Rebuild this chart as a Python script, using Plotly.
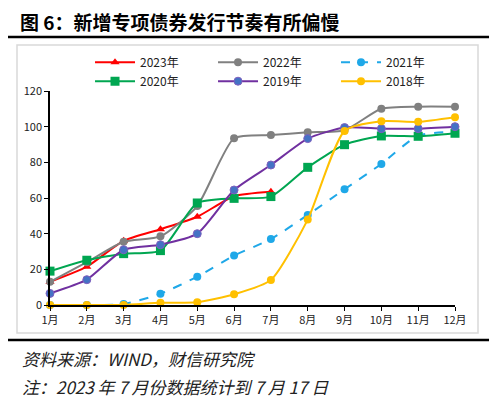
import plotly.graph_objects as go

months = ["1月", "2月", "3月", "4月", "5月", "6月", "7月", "8月", "9月", "10月", "11月", "12月"]
y2023 = [13, 21.5, 36, 42.5, 49.5, 61, 63.5]
y2022 = [13, 24, 35.5, 38.5, 55.5, 93.5, 95.3, 96.8, 98, 110, 111.2, 111.2]
y2021 = [0, 0, 0.5, 6.3, 15.9, 27.7, 37, 50.5, 64.9, 79.1, 95, 97.2]
y2020 = [19, 25.1, 28.8, 30.5, 57.2, 59.8, 60.8, 77.2, 89.9, 94.8, 94.6, 96.3]
y2019 = [6.5, 14.2, 31, 33.8, 40, 64.5, 78.5, 93.3, 99.5, 98.9, 98.9, 100]
y2018 = [0, 0, 0, 1.2, 1.5, 6, 14, 47.9, 97.6, 103, 102.7, 105.3]
yticks = [0, 20, 40, 60, 80, 100, 120]

FONT = "Noto Sans CJK SC"

series = [
    ("2023年", y2023, dict(color="#FF0000", width=2), dict(symbol="triangle-up", size=8, color="#FF0000")),
    ("2022年", y2022, dict(color="#808080", width=2), dict(symbol="circle", size=8, color="#808080")),
    ("2021年", y2021, dict(color="#1FA8E8", width=2, dash="dash"), dict(symbol="circle", size=8, color="#1FA8E8")),
    ("2020年", y2020, dict(color="#00A651", width=2), dict(symbol="square", size=9, color="#00A651")),
    ("2019年", y2019, dict(color="#7030A0", width=2), dict(symbol="circle", size=8, color="#4472C4", line=dict(color="#7F5FBF", width=1))),
    ("2018年", y2018, dict(color="#FFC000", width=2), dict(symbol="circle", size=8, color="#FFC000")),
]

fig = go.Figure()
for name, ys, line, marker in series:
    fig.add_trace(go.Scatter(
        x=list(range(len(ys))), y=ys, name=name, mode="lines+markers",
        line=dict(shape="spline", smoothing=0.6, **line), marker=marker,
        cliponaxis=False,
    ))

fig.update_layout(
    width=492, height=397,
    margin=dict(l=42, r=45, t=83, b=100, autoexpand=False),
    paper_bgcolor="white", plot_bgcolor="white",
    font=dict(family=FONT, size=11, color="#333333"),
    showlegend=True,
    legend=dict(
        orientation="h", xref="container", yref="container",
        x=0.1667, y=0.900, xanchor="left", yanchor="top",
        entrywidth=68, entrywidthmode="pixels",
        font=dict(size=12, color="#222222"),
        bgcolor="rgba(0,0,0,0)", tracegroupgap=0, itemwidth=40,
    ),
    xaxis=dict(
        range=[0, 11], tickmode="array", tickvals=list(range(12)), ticktext=months,
        showgrid=False, zeroline=False, showline=True, linecolor="black", linewidth=1.5,
        ticks="outside", ticklen=4, tickcolor="black",
        tickfont=dict(size=11, color="#222222"),
    ),
    yaxis=dict(
        range=[0, 120], tickmode="array", tickvals=yticks,
        showgrid=False, zeroline=False, showline=True, linecolor="black", linewidth=1.5,
        ticks="outside", ticklen=4, tickcolor="black",
        tickfont=dict(size=11, color="#222222"),
    ),
)

# chart frame and black rules
fig.add_shape(type="rect", xref="paper", yref="paper", x0=-0.0815, x1=1.0568, y0=-0.1308, y1=1.215,
              line=dict(color="#D9D9D9", width=1.5), layer="below")
for yy in (1.252, -0.1636):
    fig.add_shape(type="line", xref="paper", yref="paper", x0=-0.106, x1=1.084, y0=yy, y1=yy,
                  line=dict(color="black", width=2.5))

fig.add_annotation(text="<b>图 6：新增专项债券发行节奏有所偏慢</b>", xref="paper", yref="paper",
                   x=-0.079, y=1.325, xanchor="left", yanchor="middle", showarrow=False,
                   font=dict(family=FONT, size=19, color="black"))
fig.add_annotation(text="<i>资料来源：WIND，财信研究院</i>", xref="paper", yref="paper",
                   x=-0.074, y=-0.248, xanchor="left", yanchor="middle", showarrow=False,
                   font=dict(family=FONT, size=17, color="#222222"))
fig.add_annotation(text="<i>注：2023 年 7 月份数据统计到 7 月 17 日</i>", xref="paper", yref="paper",
                   x=-0.074, y=-0.383, xanchor="left", yanchor="middle", showarrow=False,
                   font=dict(family=FONT, size=17, color="#222222"))

fig.write_html("out.html")
